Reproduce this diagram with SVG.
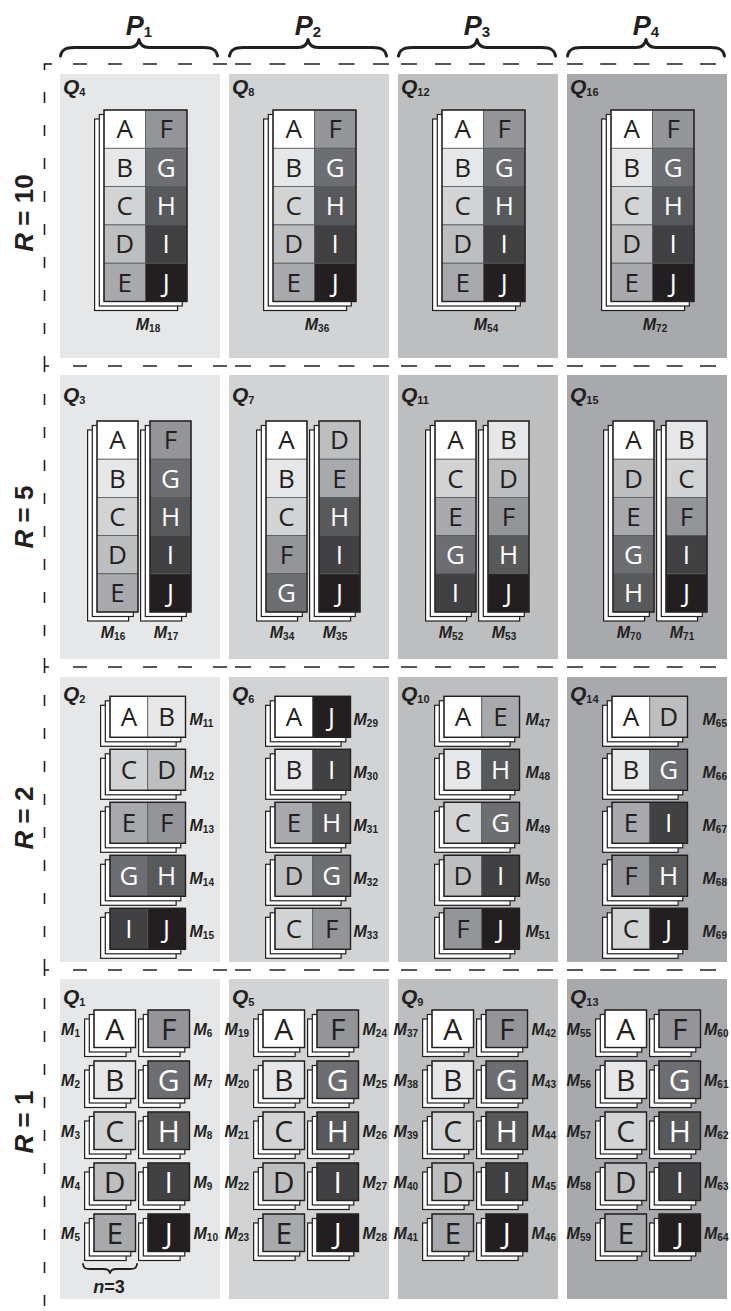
<svg xmlns="http://www.w3.org/2000/svg" xmlns:xlink="http://www.w3.org/1999/xlink" width="731" height="1311" viewBox="0 0 731 1311">
<style>
.p1{fill:#e6e7e8}.p2{fill:#d1d3d4}.p3{fill:#bcbec0}.p4{fill:#a7a9ac}
.A{fill:#fff}.B{fill:#e6e7e8}.C{fill:#d1d3d4}.D{fill:#bcbec0}.E{fill:#a7a9ac}.F{fill:#939598}.G{fill:#6d6e71}.H{fill:#58595b}.I{fill:#414042}.J{fill:#231f20}
.c{stroke:#58595b;stroke-width:0.8}
.o{fill:none;stroke:#231f20;stroke-width:1.4}
.bk{fill:#fff;stroke:#231f20;stroke-width:1.2}
.t{font-family:"Open Sans","Noto Sans","DejaVu Sans",sans-serif;font-size:26px;text-anchor:middle;fill:#231f20}
.t4{font-size:30px}
.w{fill:#fff}
.m{font-family:"Liberation Sans",Arial,sans-serif;font-weight:700;font-style:italic;font-size:16px;fill:#231f20}
.s{font-style:normal;font-size:10px}
.q{font-family:"Liberation Sans",Arial,sans-serif;font-weight:700;font-style:italic;font-size:21px;fill:#231f20}
.qs{font-style:normal;font-size:11px}
.r{font-family:"Liberation Sans",Arial,sans-serif;font-weight:700;font-size:26px;fill:#231f20}
.ph{font-family:"Liberation Sans",Arial,sans-serif;font-weight:700;font-style:italic;font-size:27px;fill:#231f20;text-anchor:middle}
.phs{font-style:normal;font-size:15px}
.dh{stroke:#231f20;stroke-width:1.6;fill:none}
.br{fill:none;stroke:#231f20;stroke-width:3;stroke-linecap:round;stroke-linejoin:round}
</style>
<defs>
<g id="b1"><rect class="bk" x="-9.4" y="9" width="83" height="191.5"/><rect class="bk" x="-4.7" y="4.5" width="83" height="191.5"/></g>
<g id="b2"><rect class="bk" x="-9.4" y="9" width="41" height="191"/><rect class="bk" x="-4.7" y="4.5" width="41" height="191"/></g>
<g id="b3"><rect class="bk" x="-9.4" y="9" width="75.5" height="41"/><rect class="bk" x="-4.7" y="4.5" width="75.5" height="41"/></g>
<g id="b4"><rect class="bk" x="-9.4" y="9" width="41.5" height="37.5"/><rect class="bk" x="-4.7" y="4.5" width="41.5" height="37.5"/></g>
</defs>
<rect width="731" height="1311" fill="#fff"/>

<g id="header">
<path class="br" transform="translate(60,0)" d="M0.5,56 C1.5,50 5,47.5 14,47.5 L69,47.5 C75,47.5 78,45 79,39.5 C80,45 83,47.5 89,47.5 L144,47.5 C153,47.5 156.5,50 157.5,56"/>
<path class="br" transform="translate(229,0)" d="M0.5,56 C1.5,50 5,47.5 14,47.5 L69,47.5 C75,47.5 78,45 79,39.5 C80,45 83,47.5 89,47.5 L144,47.5 C153,47.5 156.5,50 157.5,56"/>
<path class="br" transform="translate(398,0)" d="M0.5,56 C1.5,50 5,47.5 14,47.5 L69,47.5 C75,47.5 78,45 79,39.5 C80,45 83,47.5 89,47.5 L144,47.5 C153,47.5 156.5,50 157.5,56"/>
<path class="br" transform="translate(567,0)" d="M0.5,56 C1.5,50 5,47.5 14,47.5 L69,47.5 C75,47.5 78,45 79,39.5 C80,45 83,47.5 89,47.5 L144,47.5 C153,47.5 156.5,50 157.5,56"/>
<text class="ph" x="139" y="35">P<tspan class="phs" dy="1.5">1</tspan></text>
<text class="ph" x="308" y="35">P<tspan class="phs" dy="1.5">2</tspan></text>
<text class="ph" x="477" y="35">P<tspan class="phs" dy="1.5">3</tspan></text>
<text class="ph" x="646" y="35">P<tspan class="phs" dy="1.5">4</tspan></text>
<text class="r" transform="translate(33,213) rotate(-90)" text-anchor="middle"><tspan font-style="italic">R</tspan> = 10</text>
<text class="r" transform="translate(33,517) rotate(-90)" text-anchor="middle"><tspan font-style="italic">R</tspan> = 5</text>
<text class="r" transform="translate(33,818) rotate(-90)" text-anchor="middle"><tspan font-style="italic">R</tspan> = 2</text>
<text class="r" transform="translate(33,1122) rotate(-90)" text-anchor="middle"><tspan font-style="italic">R</tspan> = 1</text>
</g>

<g id="grid">
<line class="dh" x1="44.5" y1="64" x2="44.5" y2="361" stroke-dasharray="11 22" stroke-dashoffset="5"/>
<line class="dh" x1="44.5" y1="361" x2="44.5" y2="662" stroke-dasharray="11 22"/>
<line class="dh" x1="44.5" y1="662" x2="44.5" y2="965" stroke-dasharray="11 22"/>
<line class="dh" x1="44.5" y1="965" x2="44.5" y2="1311" stroke-dasharray="11 22"/>
<line class="dh" x1="43.7" y1="64" x2="52" y2="64"/>
<line class="dh" x1="44" y1="366" x2="49" y2="366"/>
<line class="dh" x1="44" y1="667" x2="49" y2="667"/>
<line class="dh" x1="44" y1="970" x2="49" y2="970"/>
<g id="hdash">
<line class="dh" x1="73" y1="64" x2="227" y2="64" stroke-dasharray="14 21"/>
<line class="dh" x1="235" y1="64" x2="389" y2="64" stroke-dasharray="16 18.5"/>
<line class="dh" x1="401" y1="64" x2="557" y2="64" stroke-dasharray="16 18"/>
<line class="dh" x1="567" y1="64" x2="716" y2="64" stroke-dasharray="16 17.25"/>
<line class="dh" x1="73" y1="366" x2="227" y2="366" stroke-dasharray="14 21"/>
<line class="dh" x1="235" y1="366" x2="389" y2="366" stroke-dasharray="16 18.5"/>
<line class="dh" x1="401" y1="366" x2="557" y2="366" stroke-dasharray="16 18"/>
<line class="dh" x1="567" y1="366" x2="716" y2="366" stroke-dasharray="16 17.25"/>
<line class="dh" x1="73" y1="667" x2="227" y2="667" stroke-dasharray="14 21"/>
<line class="dh" x1="235" y1="667" x2="389" y2="667" stroke-dasharray="16 18.5"/>
<line class="dh" x1="401" y1="667" x2="557" y2="667" stroke-dasharray="16 18"/>
<line class="dh" x1="567" y1="667" x2="716" y2="667" stroke-dasharray="16 17.25"/>
<line class="dh" x1="73" y1="970" x2="227" y2="970" stroke-dasharray="14 21"/>
<line class="dh" x1="235" y1="970" x2="389" y2="970" stroke-dasharray="16 18.5"/>
<line class="dh" x1="401" y1="970" x2="557" y2="970" stroke-dasharray="16 18"/>
<line class="dh" x1="567" y1="970" x2="716" y2="970" stroke-dasharray="16 17.25"/>
</g>
</g>

<!-- ROW R=10 -->
<g id="Q4">
<rect class="p1" x="60" y="74" width="160" height="284"/>
<text class="q" x="63" y="94">Q<tspan class="qs" dy="2">4</tspan></text>
<g id="M18" transform="translate(104,110)">
<use href="#b1"/>
<rect class="c A" width="41.5" height="38.3"/><rect class="c F" x="41.5" width="41.5" height="38.3"/>
<rect class="c B" y="38.3" width="41.5" height="38.3"/><rect class="c G" x="41.5" y="38.3" width="41.5" height="38.3"/>
<rect class="c C" y="76.6" width="41.5" height="38.3"/><rect class="c H" x="41.5" y="76.6" width="41.5" height="38.3"/>
<rect class="c D" y="114.9" width="41.5" height="38.3"/><rect class="c I" x="41.5" y="114.9" width="41.5" height="38.3"/>
<rect class="c E" y="153.2" width="41.5" height="38.3"/><rect class="c J" x="41.5" y="153.2" width="41.5" height="38.3"/>
<rect class="o" width="83" height="191.5"/>
<text class="t" x="20.75" y="28.4">A</text><text class="t" x="62.25" y="28.4">F</text>
<text class="t" x="20.75" y="66.7">B</text><text class="t w" x="62.25" y="66.7">G</text>
<text class="t" x="20.75" y="105">C</text><text class="t w" x="62.25" y="105">H</text>
<text class="t" x="20.75" y="143.3">D</text><text class="t w" x="62.25" y="143.3">I</text>
<text class="t" x="20.75" y="181.6">E</text><text class="t w" x="62.25" y="181.6">J</text>
</g>
<text class="m" x="148" y="330" text-anchor="middle">M<tspan class="s" dy="2">18</tspan></text>
</g>

<g id="Q8">
<rect class="p2" x="229" y="74" width="160" height="284"/>
<text class="q" x="232" y="94">Q<tspan class="qs" dy="2">8</tspan></text>
<g id="M36" transform="translate(273,110)">
<use href="#b1"/>
<rect class="c A" width="41.5" height="38.3"/><rect class="c F" x="41.5" width="41.5" height="38.3"/>
<rect class="c B" y="38.3" width="41.5" height="38.3"/><rect class="c G" x="41.5" y="38.3" width="41.5" height="38.3"/>
<rect class="c C" y="76.6" width="41.5" height="38.3"/><rect class="c H" x="41.5" y="76.6" width="41.5" height="38.3"/>
<rect class="c D" y="114.9" width="41.5" height="38.3"/><rect class="c I" x="41.5" y="114.9" width="41.5" height="38.3"/>
<rect class="c E" y="153.2" width="41.5" height="38.3"/><rect class="c J" x="41.5" y="153.2" width="41.5" height="38.3"/>
<rect class="o" width="83" height="191.5"/>
<text class="t" x="20.75" y="28.4">A</text><text class="t" x="62.25" y="28.4">F</text>
<text class="t" x="20.75" y="66.7">B</text><text class="t w" x="62.25" y="66.7">G</text>
<text class="t" x="20.75" y="105">C</text><text class="t w" x="62.25" y="105">H</text>
<text class="t" x="20.75" y="143.3">D</text><text class="t w" x="62.25" y="143.3">I</text>
<text class="t" x="20.75" y="181.6">E</text><text class="t w" x="62.25" y="181.6">J</text>
</g>
<text class="m" x="317" y="330" text-anchor="middle">M<tspan class="s" dy="2">36</tspan></text>
</g>

<g id="Q12">
<rect class="p3" x="398" y="74" width="160" height="284"/>
<text class="q" x="401" y="94">Q<tspan class="qs" dy="2">12</tspan></text>
<g id="M54" transform="translate(442,110)">
<use href="#b1"/>
<rect class="c A" width="41.5" height="38.3"/><rect class="c F" x="41.5" width="41.5" height="38.3"/>
<rect class="c B" y="38.3" width="41.5" height="38.3"/><rect class="c G" x="41.5" y="38.3" width="41.5" height="38.3"/>
<rect class="c C" y="76.6" width="41.5" height="38.3"/><rect class="c H" x="41.5" y="76.6" width="41.5" height="38.3"/>
<rect class="c D" y="114.9" width="41.5" height="38.3"/><rect class="c I" x="41.5" y="114.9" width="41.5" height="38.3"/>
<rect class="c E" y="153.2" width="41.5" height="38.3"/><rect class="c J" x="41.5" y="153.2" width="41.5" height="38.3"/>
<rect class="o" width="83" height="191.5"/>
<text class="t" x="20.75" y="28.4">A</text><text class="t" x="62.25" y="28.4">F</text>
<text class="t" x="20.75" y="66.7">B</text><text class="t w" x="62.25" y="66.7">G</text>
<text class="t" x="20.75" y="105">C</text><text class="t w" x="62.25" y="105">H</text>
<text class="t" x="20.75" y="143.3">D</text><text class="t w" x="62.25" y="143.3">I</text>
<text class="t" x="20.75" y="181.6">E</text><text class="t w" x="62.25" y="181.6">J</text>
</g>
<text class="m" x="486" y="330" text-anchor="middle">M<tspan class="s" dy="2">54</tspan></text>
</g>

<g id="Q16">
<rect class="p4" x="567" y="74" width="160" height="284"/>
<text class="q" x="570" y="94">Q<tspan class="qs" dy="2">16</tspan></text>
<g id="M72" transform="translate(611,110)">
<use href="#b1"/>
<rect class="c A" width="41.5" height="38.3"/><rect class="c F" x="41.5" width="41.5" height="38.3"/>
<rect class="c B" y="38.3" width="41.5" height="38.3"/><rect class="c G" x="41.5" y="38.3" width="41.5" height="38.3"/>
<rect class="c C" y="76.6" width="41.5" height="38.3"/><rect class="c H" x="41.5" y="76.6" width="41.5" height="38.3"/>
<rect class="c D" y="114.9" width="41.5" height="38.3"/><rect class="c I" x="41.5" y="114.9" width="41.5" height="38.3"/>
<rect class="c E" y="153.2" width="41.5" height="38.3"/><rect class="c J" x="41.5" y="153.2" width="41.5" height="38.3"/>
<rect class="o" width="83" height="191.5"/>
<text class="t" x="20.75" y="28.4">A</text><text class="t" x="62.25" y="28.4">F</text>
<text class="t" x="20.75" y="66.7">B</text><text class="t w" x="62.25" y="66.7">G</text>
<text class="t" x="20.75" y="105">C</text><text class="t w" x="62.25" y="105">H</text>
<text class="t" x="20.75" y="143.3">D</text><text class="t w" x="62.25" y="143.3">I</text>
<text class="t" x="20.75" y="181.6">E</text><text class="t w" x="62.25" y="181.6">J</text>
</g>
<text class="m" x="655" y="330" text-anchor="middle">M<tspan class="s" dy="2">72</tspan></text>
</g>

<!-- ROW R=5 -->
<g id="Q3">
<rect class="p1" x="60" y="375" width="160" height="284"/>
<text class="q" x="63" y="402">Q<tspan class="qs" dy="2">3</tspan></text>
<g id="M16" transform="translate(97,421)">
<use href="#b2"/>
<rect class="c A" width="41" height="38.2"/><rect class="c B" y="38.2" width="41" height="38.2"/><rect class="c C" y="76.4" width="41" height="38.2"/><rect class="c D" y="114.6" width="41" height="38.2"/><rect class="c E" y="152.8" width="41" height="38.2"/>
<rect class="o" width="41" height="191"/>
<text class="t" x="20.5" y="28.4">A</text><text class="t" x="20.5" y="66.6">B</text><text class="t" x="20.5" y="104.8">C</text><text class="t" x="20.5" y="143">D</text><text class="t" x="20.5" y="181.2">E</text>
</g>
<g id="M17" transform="translate(150,421)">
<use href="#b2"/>
<rect class="c F" width="41" height="38.2"/><rect class="c G" y="38.2" width="41" height="38.2"/><rect class="c H" y="76.4" width="41" height="38.2"/><rect class="c I" y="114.6" width="41" height="38.2"/><rect class="c J" y="152.8" width="41" height="38.2"/>
<rect class="o" width="41" height="191"/>
<text class="t" x="20.5" y="28.4">F</text><text class="t w" x="20.5" y="66.6">G</text><text class="t w" x="20.5" y="104.8">H</text><text class="t w" x="20.5" y="143">I</text><text class="t w" x="20.5" y="181.2">J</text>
</g>
<text class="m" x="113" y="638" text-anchor="middle">M<tspan class="s" dy="2">16</tspan></text>
<text class="m" x="166" y="638" text-anchor="middle">M<tspan class="s" dy="2">17</tspan></text>
</g>

<g id="Q7">
<rect class="p2" x="229" y="375" width="160" height="284"/>
<text class="q" x="232" y="402">Q<tspan class="qs" dy="2">7</tspan></text>
<g id="M34" transform="translate(266,421)">
<use href="#b2"/>
<rect class="c A" width="41" height="38.2"/><rect class="c B" y="38.2" width="41" height="38.2"/><rect class="c C" y="76.4" width="41" height="38.2"/><rect class="c F" y="114.6" width="41" height="38.2"/><rect class="c G" y="152.8" width="41" height="38.2"/>
<rect class="o" width="41" height="191"/>
<text class="t" x="20.5" y="28.4">A</text><text class="t" x="20.5" y="66.6">B</text><text class="t" x="20.5" y="104.8">C</text><text class="t" x="20.5" y="143">F</text><text class="t w" x="20.5" y="181.2">G</text>
</g>
<g id="M35" transform="translate(319,421)">
<use href="#b2"/>
<rect class="c D" width="41" height="38.2"/><rect class="c E" y="38.2" width="41" height="38.2"/><rect class="c H" y="76.4" width="41" height="38.2"/><rect class="c I" y="114.6" width="41" height="38.2"/><rect class="c J" y="152.8" width="41" height="38.2"/>
<rect class="o" width="41" height="191"/>
<text class="t" x="20.5" y="28.4">D</text><text class="t" x="20.5" y="66.6">E</text><text class="t w" x="20.5" y="104.8">H</text><text class="t w" x="20.5" y="143">I</text><text class="t w" x="20.5" y="181.2">J</text>
</g>
<text class="m" x="282" y="638" text-anchor="middle">M<tspan class="s" dy="2">34</tspan></text>
<text class="m" x="335" y="638" text-anchor="middle">M<tspan class="s" dy="2">35</tspan></text>
</g>

<g id="Q11">
<rect class="p3" x="398" y="375" width="160" height="284"/>
<text class="q" x="401" y="402">Q<tspan class="qs" dy="2">11</tspan></text>
<g id="M52" transform="translate(435,421)">
<use href="#b2"/>
<rect class="c A" width="41" height="38.2"/><rect class="c C" y="38.2" width="41" height="38.2"/><rect class="c E" y="76.4" width="41" height="38.2"/><rect class="c G" y="114.6" width="41" height="38.2"/><rect class="c I" y="152.8" width="41" height="38.2"/>
<rect class="o" width="41" height="191"/>
<text class="t" x="20.5" y="28.4">A</text><text class="t" x="20.5" y="66.6">C</text><text class="t" x="20.5" y="104.8">E</text><text class="t w" x="20.5" y="143">G</text><text class="t w" x="20.5" y="181.2">I</text>
</g>
<g id="M53" transform="translate(488,421)">
<use href="#b2"/>
<rect class="c B" width="41" height="38.2"/><rect class="c D" y="38.2" width="41" height="38.2"/><rect class="c F" y="76.4" width="41" height="38.2"/><rect class="c H" y="114.6" width="41" height="38.2"/><rect class="c J" y="152.8" width="41" height="38.2"/>
<rect class="o" width="41" height="191"/>
<text class="t" x="20.5" y="28.4">B</text><text class="t" x="20.5" y="66.6">D</text><text class="t" x="20.5" y="104.8">F</text><text class="t w" x="20.5" y="143">H</text><text class="t w" x="20.5" y="181.2">J</text>
</g>
<text class="m" x="451" y="638" text-anchor="middle">M<tspan class="s" dy="2">52</tspan></text>
<text class="m" x="504" y="638" text-anchor="middle">M<tspan class="s" dy="2">53</tspan></text>
</g>

<g id="Q15">
<rect class="p4" x="567" y="375" width="160" height="284"/>
<text class="q" x="570" y="402">Q<tspan class="qs" dy="2">15</tspan></text>
<g id="M70" transform="translate(613,421)">
<use href="#b2"/>
<rect class="c A" width="41" height="38.2"/><rect class="c D" y="38.2" width="41" height="38.2"/><rect class="c E" y="76.4" width="41" height="38.2"/><rect class="c G" y="114.6" width="41" height="38.2"/><rect class="c H" y="152.8" width="41" height="38.2"/>
<rect class="o" width="41" height="191"/>
<text class="t" x="20.5" y="28.4">A</text><text class="t" x="20.5" y="66.6">D</text><text class="t" x="20.5" y="104.8">E</text><text class="t w" x="20.5" y="143">G</text><text class="t w" x="20.5" y="181.2">H</text>
</g>
<g id="M71" transform="translate(666,421)">
<use href="#b2"/>
<rect class="c B" width="41" height="38.2"/><rect class="c C" y="38.2" width="41" height="38.2"/><rect class="c F" y="76.4" width="41" height="38.2"/><rect class="c I" y="114.6" width="41" height="38.2"/><rect class="c J" y="152.8" width="41" height="38.2"/>
<rect class="o" width="41" height="191"/>
<text class="t" x="20.5" y="28.4">B</text><text class="t" x="20.5" y="66.6">C</text><text class="t" x="20.5" y="104.8">F</text><text class="t w" x="20.5" y="143">I</text><text class="t w" x="20.5" y="181.2">J</text>
</g>
<text class="m" x="629" y="638" text-anchor="middle">M<tspan class="s" dy="2">70</tspan></text>
<text class="m" x="682" y="638" text-anchor="middle">M<tspan class="s" dy="2">71</tspan></text>
</g>

<!-- ROW R=2 -->
<g id="Q2">
<rect class="p1" x="60" y="677" width="160" height="285"/>
<text class="q" x="63" y="701">Q<tspan class="qs" dy="2">2</tspan></text>
<g id="M11" transform="translate(110,696.3)"><use href="#b3"/><rect class="c A" width="37.75" height="41"/><rect class="c B" x="37.75" width="37.75" height="41"/><rect class="o" width="75.5" height="41"/><text class="t" x="18.9" y="29.8">A</text><text class="t" x="56.6" y="29.8">B</text></g>
<g id="M12" transform="translate(110,749.3)"><use href="#b3"/><rect class="c C" width="37.75" height="41"/><rect class="c D" x="37.75" width="37.75" height="41"/><rect class="o" width="75.5" height="41"/><text class="t" x="18.9" y="29.8">C</text><text class="t" x="56.6" y="29.8">D</text></g>
<g id="M13" transform="translate(110,802.3)"><use href="#b3"/><rect class="c E" width="37.75" height="41"/><rect class="c F" x="37.75" width="37.75" height="41"/><rect class="o" width="75.5" height="41"/><text class="t" x="18.9" y="29.8">E</text><text class="t" x="56.6" y="29.8">F</text></g>
<g id="M14" transform="translate(110,855.3)"><use href="#b3"/><rect class="c G" width="37.75" height="41"/><rect class="c H" x="37.75" width="37.75" height="41"/><rect class="o" width="75.5" height="41"/><text class="t w" x="18.9" y="29.8">G</text><text class="t w" x="56.6" y="29.8">H</text></g>
<g id="M15" transform="translate(110,908.3)"><use href="#b3"/><rect class="c I" width="37.75" height="41"/><rect class="c J" x="37.75" width="37.75" height="41"/><rect class="o" width="75.5" height="41"/><text class="t w" x="18.9" y="29.8">I</text><text class="t w" x="56.6" y="29.8">J</text></g>
<text class="m" x="189.5" y="724.8">M<tspan class="s" dy="2">11</tspan></text>
<text class="m" x="189.5" y="777.8">M<tspan class="s" dy="2">12</tspan></text>
<text class="m" x="189.5" y="830.8">M<tspan class="s" dy="2">13</tspan></text>
<text class="m" x="189.5" y="883.8">M<tspan class="s" dy="2">14</tspan></text>
<text class="m" x="189.5" y="936.8">M<tspan class="s" dy="2">15</tspan></text>
</g>

<g id="Q6">
<rect class="p2" x="229" y="677" width="160" height="285"/>
<text class="q" x="232" y="701">Q<tspan class="qs" dy="2">6</tspan></text>
<g id="M29" transform="translate(275,696.3)"><use href="#b3"/><rect class="c A" width="37.75" height="41"/><rect class="c J" x="37.75" width="37.75" height="41"/><rect class="o" width="75.5" height="41"/><text class="t" x="18.9" y="29.8">A</text><text class="t w" x="56.6" y="29.8">J</text></g>
<g id="M30" transform="translate(275,749.3)"><use href="#b3"/><rect class="c B" width="37.75" height="41"/><rect class="c I" x="37.75" width="37.75" height="41"/><rect class="o" width="75.5" height="41"/><text class="t" x="18.9" y="29.8">B</text><text class="t w" x="56.6" y="29.8">I</text></g>
<g id="M31" transform="translate(275,802.3)"><use href="#b3"/><rect class="c E" width="37.75" height="41"/><rect class="c H" x="37.75" width="37.75" height="41"/><rect class="o" width="75.5" height="41"/><text class="t" x="18.9" y="29.8">E</text><text class="t w" x="56.6" y="29.8">H</text></g>
<g id="M32" transform="translate(275,855.3)"><use href="#b3"/><rect class="c D" width="37.75" height="41"/><rect class="c G" x="37.75" width="37.75" height="41"/><rect class="o" width="75.5" height="41"/><text class="t" x="18.9" y="29.8">D</text><text class="t w" x="56.6" y="29.8">G</text></g>
<g id="M33" transform="translate(275,908.3)"><use href="#b3"/><rect class="c C" width="37.75" height="41"/><rect class="c F" x="37.75" width="37.75" height="41"/><rect class="o" width="75.5" height="41"/><text class="t" x="18.9" y="29.8">C</text><text class="t" x="56.6" y="29.8">F</text></g>
<text class="m" x="353.5" y="724.8">M<tspan class="s" dy="2">29</tspan></text>
<text class="m" x="353.5" y="777.8">M<tspan class="s" dy="2">30</tspan></text>
<text class="m" x="353.5" y="830.8">M<tspan class="s" dy="2">31</tspan></text>
<text class="m" x="353.5" y="883.8">M<tspan class="s" dy="2">32</tspan></text>
<text class="m" x="353.5" y="936.8">M<tspan class="s" dy="2">33</tspan></text>
</g>

<g id="Q10">
<rect class="p3" x="398" y="677" width="160" height="285"/>
<text class="q" x="401" y="701">Q<tspan class="qs" dy="2">10</tspan></text>
<g id="M47" transform="translate(444,696.3)"><use href="#b3"/><rect class="c A" width="37.75" height="41"/><rect class="c E" x="37.75" width="37.75" height="41"/><rect class="o" width="75.5" height="41"/><text class="t" x="18.9" y="29.8">A</text><text class="t" x="56.6" y="29.8">E</text></g>
<g id="M48" transform="translate(444,749.3)"><use href="#b3"/><rect class="c B" width="37.75" height="41"/><rect class="c H" x="37.75" width="37.75" height="41"/><rect class="o" width="75.5" height="41"/><text class="t" x="18.9" y="29.8">B</text><text class="t w" x="56.6" y="29.8">H</text></g>
<g id="M49" transform="translate(444,802.3)"><use href="#b3"/><rect class="c C" width="37.75" height="41"/><rect class="c G" x="37.75" width="37.75" height="41"/><rect class="o" width="75.5" height="41"/><text class="t" x="18.9" y="29.8">C</text><text class="t w" x="56.6" y="29.8">G</text></g>
<g id="M50" transform="translate(444,855.3)"><use href="#b3"/><rect class="c D" width="37.75" height="41"/><rect class="c I" x="37.75" width="37.75" height="41"/><rect class="o" width="75.5" height="41"/><text class="t" x="18.9" y="29.8">D</text><text class="t w" x="56.6" y="29.8">I</text></g>
<g id="M51" transform="translate(444,908.3)"><use href="#b3"/><rect class="c F" width="37.75" height="41"/><rect class="c J" x="37.75" width="37.75" height="41"/><rect class="o" width="75.5" height="41"/><text class="t" x="18.9" y="29.8">F</text><text class="t w" x="56.6" y="29.8">J</text></g>
<text class="m" x="525.5" y="724.8">M<tspan class="s" dy="2">47</tspan></text>
<text class="m" x="525.5" y="777.8">M<tspan class="s" dy="2">48</tspan></text>
<text class="m" x="525.5" y="830.8">M<tspan class="s" dy="2">49</tspan></text>
<text class="m" x="525.5" y="883.8">M<tspan class="s" dy="2">50</tspan></text>
<text class="m" x="525.5" y="936.8">M<tspan class="s" dy="2">51</tspan></text>
</g>

<g id="Q14">
<rect class="p4" x="567" y="677" width="160" height="285"/>
<text class="q" x="570" y="701">Q<tspan class="qs" dy="2">14</tspan></text>
<g id="M65" transform="translate(612,696.3)"><use href="#b3"/><rect class="c A" width="37.75" height="41"/><rect class="c D" x="37.75" width="37.75" height="41"/><rect class="o" width="75.5" height="41"/><text class="t" x="18.9" y="29.8">A</text><text class="t" x="56.6" y="29.8">D</text></g>
<g id="M66" transform="translate(612,749.3)"><use href="#b3"/><rect class="c B" width="37.75" height="41"/><rect class="c G" x="37.75" width="37.75" height="41"/><rect class="o" width="75.5" height="41"/><text class="t" x="18.9" y="29.8">B</text><text class="t w" x="56.6" y="29.8">G</text></g>
<g id="M67" transform="translate(612,802.3)"><use href="#b3"/><rect class="c E" width="37.75" height="41"/><rect class="c I" x="37.75" width="37.75" height="41"/><rect class="o" width="75.5" height="41"/><text class="t" x="18.9" y="29.8">E</text><text class="t w" x="56.6" y="29.8">I</text></g>
<g id="M68" transform="translate(612,855.3)"><use href="#b3"/><rect class="c F" width="37.75" height="41"/><rect class="c H" x="37.75" width="37.75" height="41"/><rect class="o" width="75.5" height="41"/><text class="t" x="18.9" y="29.8">F</text><text class="t w" x="56.6" y="29.8">H</text></g>
<g id="M69" transform="translate(612,908.3)"><use href="#b3"/><rect class="c C" width="37.75" height="41"/><rect class="c J" x="37.75" width="37.75" height="41"/><rect class="o" width="75.5" height="41"/><text class="t" x="18.9" y="29.8">C</text><text class="t w" x="56.6" y="29.8">J</text></g>
<text class="m" x="702.5" y="724.8">M<tspan class="s" dy="2">65</tspan></text>
<text class="m" x="702.5" y="777.8">M<tspan class="s" dy="2">66</tspan></text>
<text class="m" x="702.5" y="830.8">M<tspan class="s" dy="2">67</tspan></text>
<text class="m" x="702.5" y="883.8">M<tspan class="s" dy="2">68</tspan></text>
<text class="m" x="702.5" y="936.8">M<tspan class="s" dy="2">69</tspan></text>
</g>

<!-- ROW R=1 -->
<g id="Q1">
<rect class="p1" x="60" y="979" width="160" height="320"/>
<text class="q" x="63" y="1004">Q<tspan class="qs" dy="2">1</tspan></text>
<g transform="translate(94,1010)"><use href="#b4"/><rect class="c A" width="41.5" height="37.5"/><rect class="o" width="41.5" height="37.5"/><text class="t t4" x="20.75" y="29.5">A</text></g>
<g transform="translate(94,1061)"><use href="#b4"/><rect class="c B" width="41.5" height="37.5"/><rect class="o" width="41.5" height="37.5"/><text class="t t4" x="20.75" y="29.5">B</text></g>
<g transform="translate(94,1112)"><use href="#b4"/><rect class="c C" width="41.5" height="37.5"/><rect class="o" width="41.5" height="37.5"/><text class="t t4" x="20.75" y="29.5">C</text></g>
<g transform="translate(94,1163)"><use href="#b4"/><rect class="c D" width="41.5" height="37.5"/><rect class="o" width="41.5" height="37.5"/><text class="t t4" x="20.75" y="29.5">D</text></g>
<g transform="translate(94,1214)"><use href="#b4"/><rect class="c E" width="41.5" height="37.5"/><rect class="o" width="41.5" height="37.5"/><text class="t t4" x="20.75" y="29.5">E</text></g>
<g transform="translate(148,1010)"><use href="#b4"/><rect class="c F" width="41.5" height="37.5"/><rect class="o" width="41.5" height="37.5"/><text class="t t4" x="20.75" y="29.5">F</text></g>
<g transform="translate(148,1061)"><use href="#b4"/><rect class="c G" width="41.5" height="37.5"/><rect class="o" width="41.5" height="37.5"/><text class="t t4 w" x="20.75" y="29.5">G</text></g>
<g transform="translate(148,1112)"><use href="#b4"/><rect class="c H" width="41.5" height="37.5"/><rect class="o" width="41.5" height="37.5"/><text class="t t4 w" x="20.75" y="29.5">H</text></g>
<g transform="translate(148,1163)"><use href="#b4"/><rect class="c I" width="41.5" height="37.5"/><rect class="o" width="41.5" height="37.5"/><text class="t t4 w" x="20.75" y="29.5">I</text></g>
<g transform="translate(148,1214)"><use href="#b4"/><rect class="c J" width="41.5" height="37.5"/><rect class="o" width="41.5" height="37.5"/><text class="t t4 w" x="20.75" y="29.5">J</text></g>
<text class="m" x="80" y="1035" text-anchor="end">M<tspan class="s" dy="2">1</tspan></text>
<text class="m" x="80" y="1086" text-anchor="end">M<tspan class="s" dy="2">2</tspan></text>
<text class="m" x="80" y="1137" text-anchor="end">M<tspan class="s" dy="2">3</tspan></text>
<text class="m" x="80" y="1188" text-anchor="end">M<tspan class="s" dy="2">4</tspan></text>
<text class="m" x="80" y="1239" text-anchor="end">M<tspan class="s" dy="2">5</tspan></text>
<text class="m" x="193.5" y="1035">M<tspan class="s" dy="2">6</tspan></text>
<text class="m" x="193.5" y="1086">M<tspan class="s" dy="2">7</tspan></text>
<text class="m" x="193.5" y="1137">M<tspan class="s" dy="2">8</tspan></text>
<text class="m" x="193.5" y="1188">M<tspan class="s" dy="2">9</tspan></text>
<text class="m" x="193.5" y="1239">M<tspan class="s" dy="2">10</tspan></text>
<path d="M83,1264 C83.5,1268 85,1269 90,1269 L104,1269 C107.5,1269 109.5,1270 110,1273.5 C110.5,1270 112.5,1269 116,1269 L130,1269 C135,1269 136.5,1268 137,1264" fill="none" stroke="#231f20" stroke-width="1.8" stroke-linecap="round"/>
<text class="r" x="109" y="1293" text-anchor="middle" style="font-size:18px"><tspan font-style="italic">n</tspan>=3</text>
</g>

<g id="Q5">
<rect class="p2" x="229" y="979" width="160" height="320"/>
<text class="q" x="232" y="1004">Q<tspan class="qs" dy="2">5</tspan></text>
<g transform="translate(263,1010)"><use href="#b4"/><rect class="c A" width="41.5" height="37.5"/><rect class="o" width="41.5" height="37.5"/><text class="t t4" x="20.75" y="29.5">A</text></g>
<g transform="translate(263,1061)"><use href="#b4"/><rect class="c B" width="41.5" height="37.5"/><rect class="o" width="41.5" height="37.5"/><text class="t t4" x="20.75" y="29.5">B</text></g>
<g transform="translate(263,1112)"><use href="#b4"/><rect class="c C" width="41.5" height="37.5"/><rect class="o" width="41.5" height="37.5"/><text class="t t4" x="20.75" y="29.5">C</text></g>
<g transform="translate(263,1163)"><use href="#b4"/><rect class="c D" width="41.5" height="37.5"/><rect class="o" width="41.5" height="37.5"/><text class="t t4" x="20.75" y="29.5">D</text></g>
<g transform="translate(263,1214)"><use href="#b4"/><rect class="c E" width="41.5" height="37.5"/><rect class="o" width="41.5" height="37.5"/><text class="t t4" x="20.75" y="29.5">E</text></g>
<g transform="translate(317,1010)"><use href="#b4"/><rect class="c F" width="41.5" height="37.5"/><rect class="o" width="41.5" height="37.5"/><text class="t t4" x="20.75" y="29.5">F</text></g>
<g transform="translate(317,1061)"><use href="#b4"/><rect class="c G" width="41.5" height="37.5"/><rect class="o" width="41.5" height="37.5"/><text class="t t4 w" x="20.75" y="29.5">G</text></g>
<g transform="translate(317,1112)"><use href="#b4"/><rect class="c H" width="41.5" height="37.5"/><rect class="o" width="41.5" height="37.5"/><text class="t t4 w" x="20.75" y="29.5">H</text></g>
<g transform="translate(317,1163)"><use href="#b4"/><rect class="c I" width="41.5" height="37.5"/><rect class="o" width="41.5" height="37.5"/><text class="t t4 w" x="20.75" y="29.5">I</text></g>
<g transform="translate(317,1214)"><use href="#b4"/><rect class="c J" width="41.5" height="37.5"/><rect class="o" width="41.5" height="37.5"/><text class="t t4 w" x="20.75" y="29.5">J</text></g>
<text class="m" x="249" y="1035" text-anchor="end">M<tspan class="s" dy="2">19</tspan></text>
<text class="m" x="249" y="1086" text-anchor="end">M<tspan class="s" dy="2">20</tspan></text>
<text class="m" x="249" y="1137" text-anchor="end">M<tspan class="s" dy="2">21</tspan></text>
<text class="m" x="249" y="1188" text-anchor="end">M<tspan class="s" dy="2">22</tspan></text>
<text class="m" x="249" y="1239" text-anchor="end">M<tspan class="s" dy="2">23</tspan></text>
<text class="m" x="362.5" y="1035">M<tspan class="s" dy="2">24</tspan></text>
<text class="m" x="362.5" y="1086">M<tspan class="s" dy="2">25</tspan></text>
<text class="m" x="362.5" y="1137">M<tspan class="s" dy="2">26</tspan></text>
<text class="m" x="362.5" y="1188">M<tspan class="s" dy="2">27</tspan></text>
<text class="m" x="362.5" y="1239">M<tspan class="s" dy="2">28</tspan></text>
</g>

<g id="Q9">
<rect class="p3" x="398" y="979" width="160" height="320"/>
<text class="q" x="401" y="1004">Q<tspan class="qs" dy="2">9</tspan></text>
<g transform="translate(432,1010)"><use href="#b4"/><rect class="c A" width="41.5" height="37.5"/><rect class="o" width="41.5" height="37.5"/><text class="t t4" x="20.75" y="29.5">A</text></g>
<g transform="translate(432,1061)"><use href="#b4"/><rect class="c B" width="41.5" height="37.5"/><rect class="o" width="41.5" height="37.5"/><text class="t t4" x="20.75" y="29.5">B</text></g>
<g transform="translate(432,1112)"><use href="#b4"/><rect class="c C" width="41.5" height="37.5"/><rect class="o" width="41.5" height="37.5"/><text class="t t4" x="20.75" y="29.5">C</text></g>
<g transform="translate(432,1163)"><use href="#b4"/><rect class="c D" width="41.5" height="37.5"/><rect class="o" width="41.5" height="37.5"/><text class="t t4" x="20.75" y="29.5">D</text></g>
<g transform="translate(432,1214)"><use href="#b4"/><rect class="c E" width="41.5" height="37.5"/><rect class="o" width="41.5" height="37.5"/><text class="t t4" x="20.75" y="29.5">E</text></g>
<g transform="translate(486,1010)"><use href="#b4"/><rect class="c F" width="41.5" height="37.5"/><rect class="o" width="41.5" height="37.5"/><text class="t t4" x="20.75" y="29.5">F</text></g>
<g transform="translate(486,1061)"><use href="#b4"/><rect class="c G" width="41.5" height="37.5"/><rect class="o" width="41.5" height="37.5"/><text class="t t4 w" x="20.75" y="29.5">G</text></g>
<g transform="translate(486,1112)"><use href="#b4"/><rect class="c H" width="41.5" height="37.5"/><rect class="o" width="41.5" height="37.5"/><text class="t t4 w" x="20.75" y="29.5">H</text></g>
<g transform="translate(486,1163)"><use href="#b4"/><rect class="c I" width="41.5" height="37.5"/><rect class="o" width="41.5" height="37.5"/><text class="t t4 w" x="20.75" y="29.5">I</text></g>
<g transform="translate(486,1214)"><use href="#b4"/><rect class="c J" width="41.5" height="37.5"/><rect class="o" width="41.5" height="37.5"/><text class="t t4 w" x="20.75" y="29.5">J</text></g>
<text class="m" x="418" y="1035" text-anchor="end">M<tspan class="s" dy="2">37</tspan></text>
<text class="m" x="418" y="1086" text-anchor="end">M<tspan class="s" dy="2">38</tspan></text>
<text class="m" x="418" y="1137" text-anchor="end">M<tspan class="s" dy="2">39</tspan></text>
<text class="m" x="418" y="1188" text-anchor="end">M<tspan class="s" dy="2">40</tspan></text>
<text class="m" x="418" y="1239" text-anchor="end">M<tspan class="s" dy="2">41</tspan></text>
<text class="m" x="531.5" y="1035">M<tspan class="s" dy="2">42</tspan></text>
<text class="m" x="531.5" y="1086">M<tspan class="s" dy="2">43</tspan></text>
<text class="m" x="531.5" y="1137">M<tspan class="s" dy="2">44</tspan></text>
<text class="m" x="531.5" y="1188">M<tspan class="s" dy="2">45</tspan></text>
<text class="m" x="531.5" y="1239">M<tspan class="s" dy="2">46</tspan></text>
</g>

<g id="Q13">
<rect class="p4" x="567" y="979" width="160" height="320"/>
<text class="q" x="570" y="1004">Q<tspan class="qs" dy="2">13</tspan></text>
<g transform="translate(605,1010)"><use href="#b4"/><rect class="c A" width="41.5" height="37.5"/><rect class="o" width="41.5" height="37.5"/><text class="t t4" x="20.75" y="29.5">A</text></g>
<g transform="translate(605,1061)"><use href="#b4"/><rect class="c B" width="41.5" height="37.5"/><rect class="o" width="41.5" height="37.5"/><text class="t t4" x="20.75" y="29.5">B</text></g>
<g transform="translate(605,1112)"><use href="#b4"/><rect class="c C" width="41.5" height="37.5"/><rect class="o" width="41.5" height="37.5"/><text class="t t4" x="20.75" y="29.5">C</text></g>
<g transform="translate(605,1163)"><use href="#b4"/><rect class="c D" width="41.5" height="37.5"/><rect class="o" width="41.5" height="37.5"/><text class="t t4" x="20.75" y="29.5">D</text></g>
<g transform="translate(605,1214)"><use href="#b4"/><rect class="c E" width="41.5" height="37.5"/><rect class="o" width="41.5" height="37.5"/><text class="t t4" x="20.75" y="29.5">E</text></g>
<g transform="translate(659,1010)"><use href="#b4"/><rect class="c F" width="41.5" height="37.5"/><rect class="o" width="41.5" height="37.5"/><text class="t t4" x="20.75" y="29.5">F</text></g>
<g transform="translate(659,1061)"><use href="#b4"/><rect class="c G" width="41.5" height="37.5"/><rect class="o" width="41.5" height="37.5"/><text class="t t4 w" x="20.75" y="29.5">G</text></g>
<g transform="translate(659,1112)"><use href="#b4"/><rect class="c H" width="41.5" height="37.5"/><rect class="o" width="41.5" height="37.5"/><text class="t t4 w" x="20.75" y="29.5">H</text></g>
<g transform="translate(659,1163)"><use href="#b4"/><rect class="c I" width="41.5" height="37.5"/><rect class="o" width="41.5" height="37.5"/><text class="t t4 w" x="20.75" y="29.5">I</text></g>
<g transform="translate(659,1214)"><use href="#b4"/><rect class="c J" width="41.5" height="37.5"/><rect class="o" width="41.5" height="37.5"/><text class="t t4 w" x="20.75" y="29.5">J</text></g>
<text class="m" x="591" y="1035" text-anchor="end">M<tspan class="s" dy="2">55</tspan></text>
<text class="m" x="591" y="1086" text-anchor="end">M<tspan class="s" dy="2">56</tspan></text>
<text class="m" x="591" y="1137" text-anchor="end">M<tspan class="s" dy="2">57</tspan></text>
<text class="m" x="591" y="1188" text-anchor="end">M<tspan class="s" dy="2">58</tspan></text>
<text class="m" x="591" y="1239" text-anchor="end">M<tspan class="s" dy="2">59</tspan></text>
<text class="m" x="704" y="1035">M<tspan class="s" dy="2">60</tspan></text>
<text class="m" x="704" y="1086">M<tspan class="s" dy="2">61</tspan></text>
<text class="m" x="704" y="1137">M<tspan class="s" dy="2">62</tspan></text>
<text class="m" x="704" y="1188">M<tspan class="s" dy="2">63</tspan></text>
<text class="m" x="704" y="1239">M<tspan class="s" dy="2">64</tspan></text>
</g>
</svg>
